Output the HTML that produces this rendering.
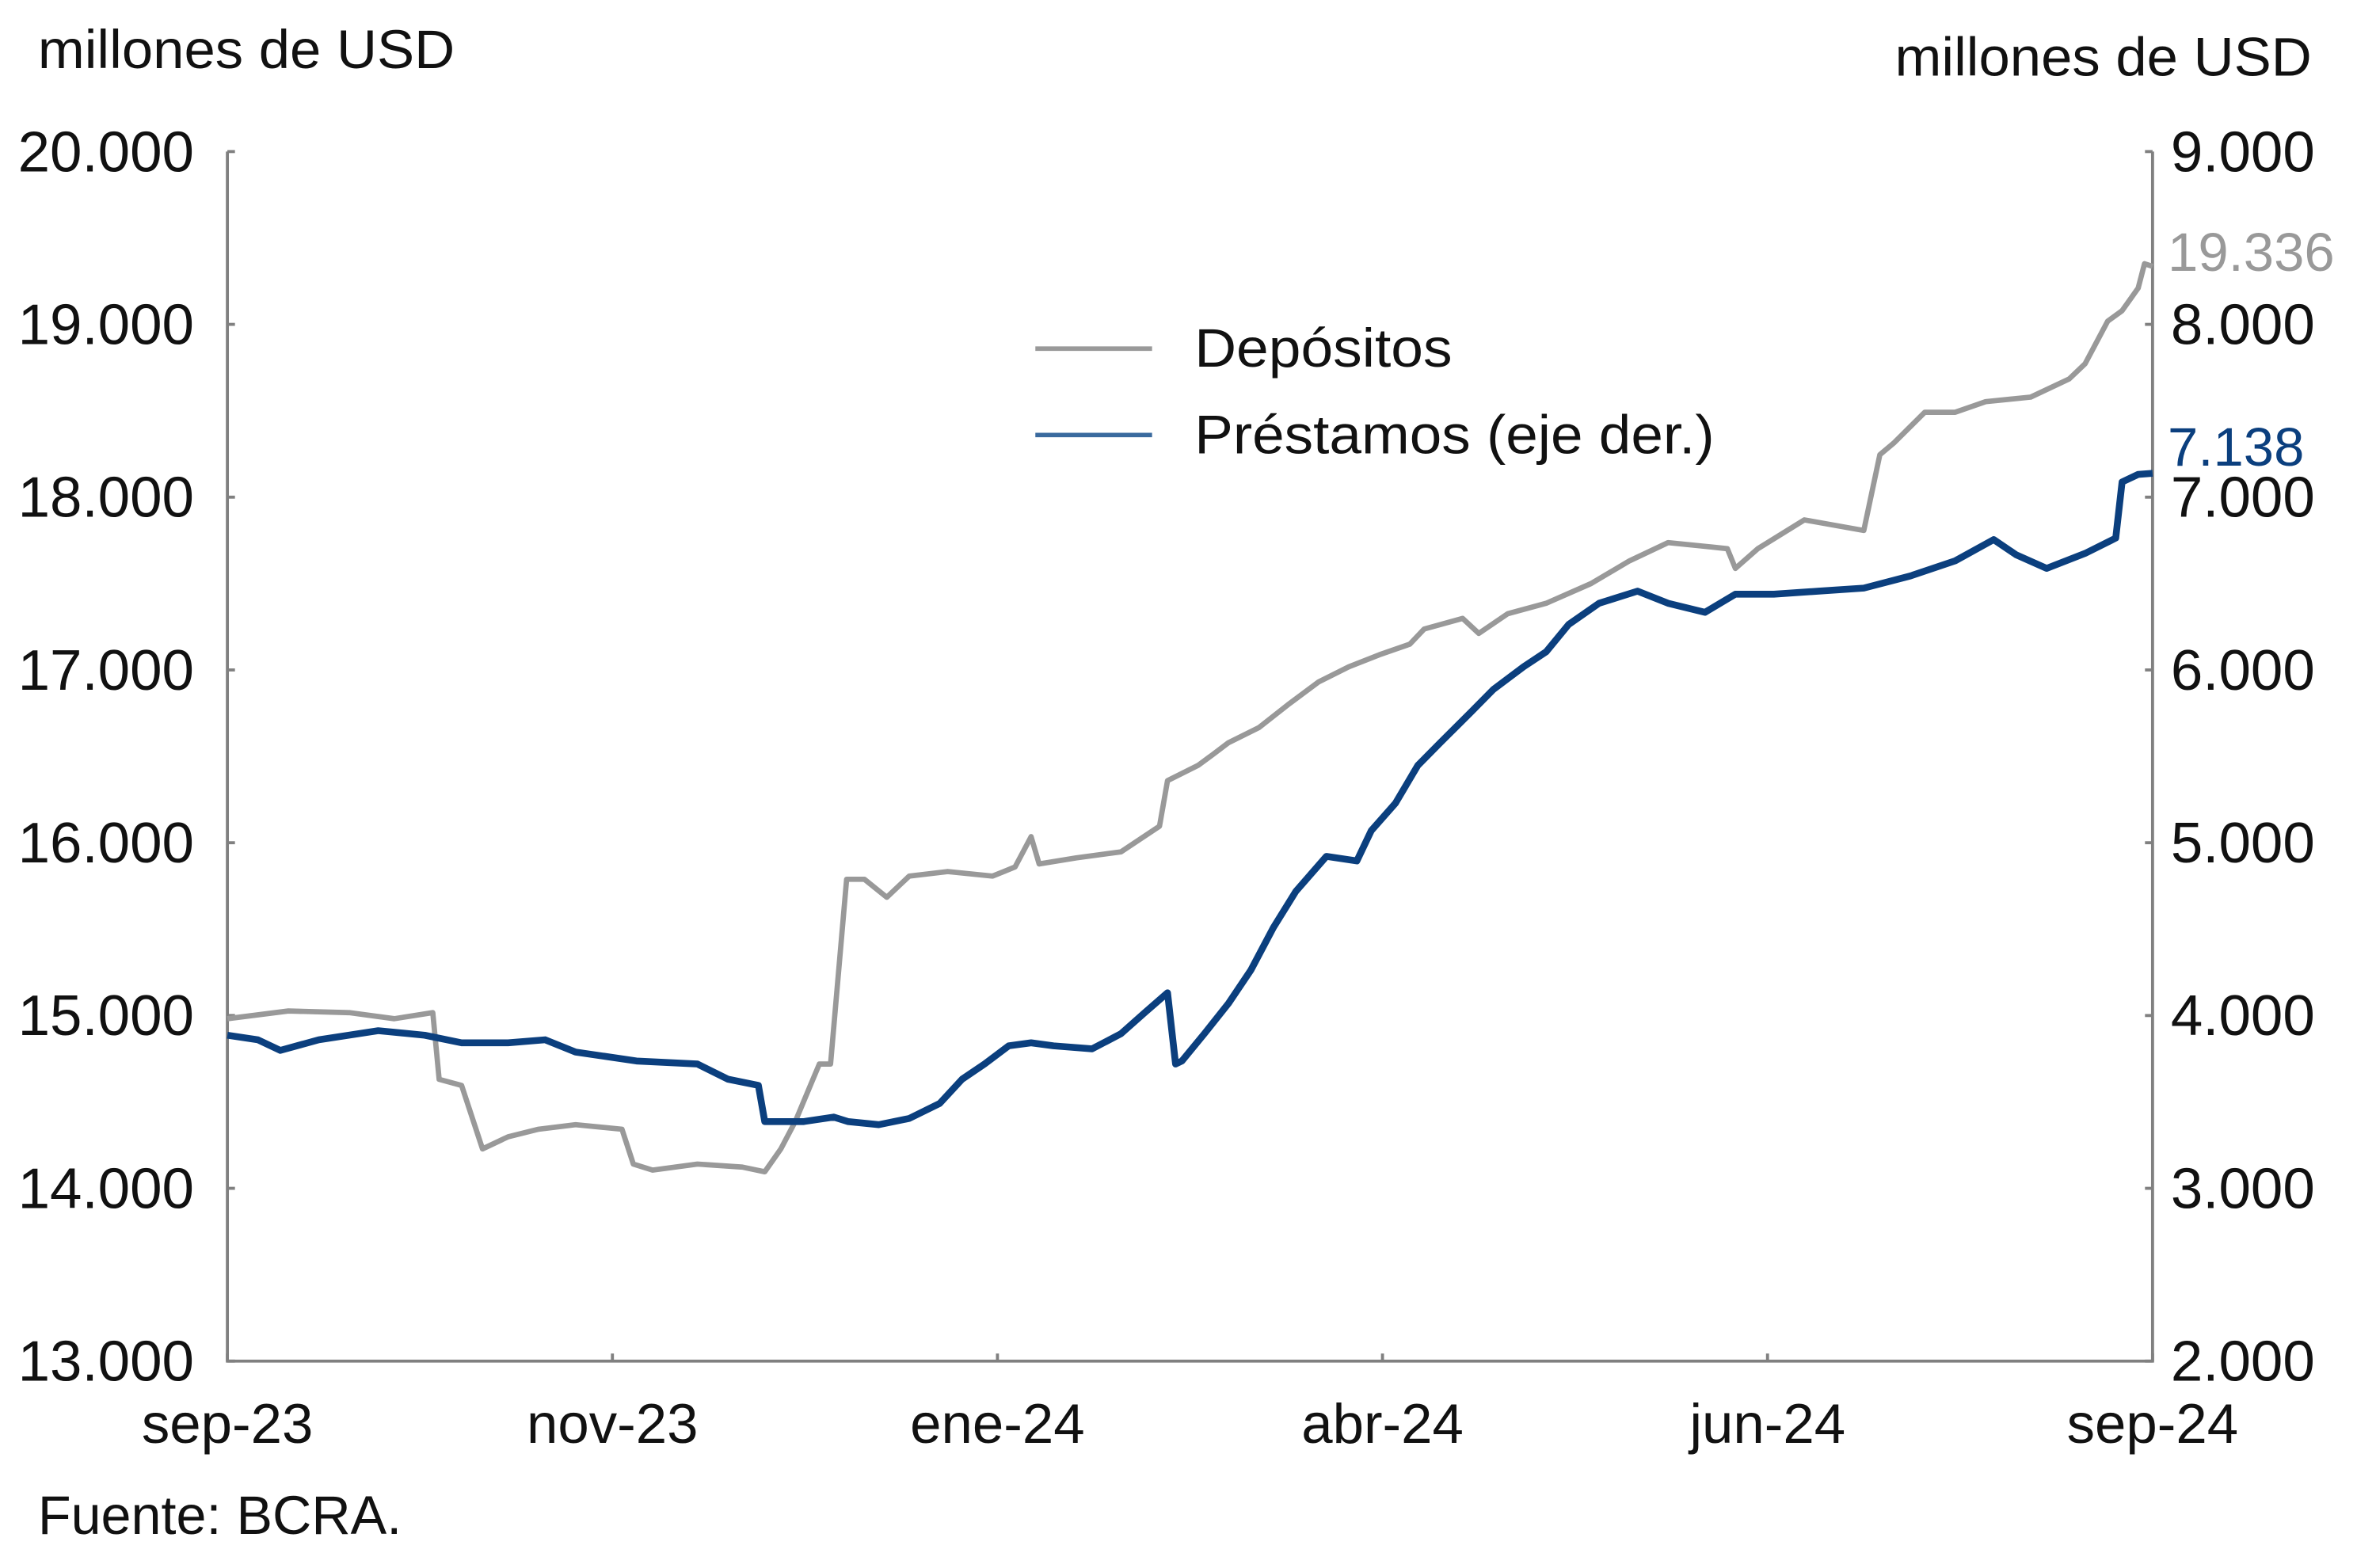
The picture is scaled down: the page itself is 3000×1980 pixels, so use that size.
<!DOCTYPE html>
<html><head><meta charset="utf-8">
<style>
html,body{margin:0;padding:0;background:#fff;}
svg{display:block;}
text{font-family:"Liberation Sans",sans-serif;fill:#111;}
</style></head>
<body>
<svg id="chart" width="3000" height="1980" viewBox="0 0 1567.4 1034.5" preserveAspectRatio="none" xmlns="http://www.w3.org/2000/svg">
<text x="25" y="45" font-size="36" textLength="275" lengthAdjust="spacingAndGlyphs">millones de USD</text>
<text x="1250" y="50" font-size="36" textLength="275" lengthAdjust="spacingAndGlyphs">millones de USD</text>
<text x="25" y="1012" font-size="36" textLength="240" lengthAdjust="spacingAndGlyphs">Fuente: BCRA.</text>
<g id="axes"></g>
<g id="series"></g>
<g>
  <line x1="683" y1="230" x2="760" y2="230" stroke="#999" stroke-width="3"/>
  <text x="788" y="242" font-size="36" textLength="170" lengthAdjust="spacingAndGlyphs">Depósitos</text>
  <line x1="683" y1="287" x2="760" y2="287" stroke="#3a6a9e" stroke-width="3"/>
  <text x="788" y="299" font-size="36" textLength="343" lengthAdjust="spacingAndGlyphs">Préstamos (eje der.)</text>
</g>
</svg>
<script>
const xTickLabels = ["sep-23","nov-23","ene-24","abr-24","jun-24","sep-24"];
const leftTicks = [13000,14000,15000,16000,17000,18000,19000,20000];
const rightTicks = [2000,3000,4000,5000,6000,7000,8000,9000];
const depT = [0,0.38,0.76,1.04,1.28,1.32,1.46,1.59,1.75,1.94,2.17,2.46,2.53,2.65,2.93,3.21,3.35,3.45,3.54,3.69,3.76,3.86,3.97,4.11,4.25,4.49,4.77,4.91,5.01,5.06,5.29,5.57,5.81,5.86,6.05,6.14,6.24,6.43,6.61,6.80,6.99,7.18,7.37,7.46,7.70,7.80,7.98,8.22,8.50,8.74,8.98,9.17,9.35,9.40,9.54,9.83,10.20,10.30,10.39,10.58,10.77,10.96,11.24,11.48,11.58,11.72,11.81,11.91,11.95,12];
const depV = [14982,15026,15017,14982,15017,14631,14596,14228,14298,14342,14368,14342,14140,14105,14140,14123,14096,14228,14386,14719,14719,15789,15789,15684,15807,15833,15807,15860,16035,15877,15912,15947,16096,16360,16447,16509,16579,16667,16798,16930,17018,17088,17149,17237,17298,17211,17325,17386,17500,17632,17737,17719,17702,17588,17702,17868,17807,18246,18316,18491,18491,18553,18579,18684,18772,19018,19079,19210,19351,19336];
const preT = [0,0.19,0.33,0.57,0.94,1.23,1.46,1.75,1.98,2.17,2.55,2.93,3.12,3.31,3.35,3.59,3.78,3.87,4.06,4.25,4.44,4.58,4.72,4.87,5.01,5.15,5.39,5.57,5.72,5.86,5.91,5.95,6.09,6.24,6.38,6.52,6.66,6.85,7.04,7.13,7.28,7.42,7.56,7.75,7.89,8.08,8.22,8.36,8.55,8.79,8.98,9.21,9.40,9.64,9.92,10.20,10.49,10.77,11.01,11.15,11.34,11.58,11.77,11.81,11.91,12];
const preV = [3886,3860,3798,3860,3912,3886,3842,3842,3860,3789,3737,3719,3632,3596,3386,3386,3412,3386,3368,3404,3491,3632,3719,3825,3842,3825,3807,3895,4018,4132,3719,3737,3895,4070,4263,4509,4719,4921,4895,5070,5228,5447,5579,5754,5886,6018,6105,6263,6386,6456,6386,6333,6439,6439,6456,6474,6544,6632,6754,6667,6588,6675,6763,7088,7132,7138];
const depLast = "19.336", preLast = "7.138";

const NS="http://www.w3.org/2000/svg";
const X0=150,X1=1420,Y0=100,Y1=898;
const xs=t=>X0+(t/12)*(X1-X0);
const yL=v=>Y1-(v-13000)/7000*(Y1-Y0);
const yR=v=>Y1-(v-2000)/7000*(Y1-Y0);
function mk(tag,attrs,parent){const e=document.createElementNS(NS,tag);for(const k in attrs)e.setAttribute(k,attrs[k]);parent.appendChild(e);return e;}
const axes=document.getElementById('axes'), series=document.getElementById('series');
const fmt=v=>v.toLocaleString('de-DE');

let e=mk('path',{d:`M${X0},${Y0}V${Y1}H${X1}V${Y0}`,fill:'none',stroke:'#808080','stroke-width':2},axes);


leftTicks.forEach(v=>{
  const y=yL(v);
  let t=mk('line',{x1:X0,x2:X0+5,y1:y,y2:y,stroke:'#808080','stroke-width':2},axes);
  
  
  let l=mk('text',{x:128,y:y+13,'font-size':38,'text-anchor':'end'},axes);l.textContent=fmt(v);
  
  
});
rightTicks.forEach(v=>{
  const y=yR(v);
  let t=mk('line',{x1:X1-5,x2:X1,y1:y,y2:y,stroke:'#808080','stroke-width':2},axes);
  
  
  let l=mk('text',{x:1432,y:y+13,'font-size':38},axes);l.textContent=fmt(v);
  
  
});
xTickLabels.forEach((s,i)=>{
  const x=X0+i*(X1-X0)/(xTickLabels.length-1);
  let t=mk('line',{x1:x,x2:x,y1:Y1,y2:Y1-5,stroke:'#808080','stroke-width':2},axes);
  
  
  let l=mk('text',{x:x,y:952,'font-size':37,'text-anchor':'middle'},axes);l.textContent=s;
  
  
});
let dp=mk('path',{d:depT.map((t,i)=>(i?'L':'M')+xs(t).toFixed(1)+','+yL(depV[i]).toFixed(1)).join(''),fill:'none',stroke:'#999','stroke-width':3.5,'stroke-linejoin':'round'},series);


let pp=mk('path',{d:preT.map((t,i)=>(i?'L':'M')+xs(t).toFixed(1)+','+yR(preV[i]).toFixed(1)).join(''),fill:'none',stroke:'#0b3f7e','stroke-width':4.5,'stroke-linejoin':'round'},series);


let dl=mk('text',{x:1430,y:yL(depV[depV.length-1])+3,'font-size':36,style:'fill:#999'},series);dl.textContent=depLast;


let pl=mk('text',{x:1430,y:yR(preV[preV.length-1])-5,'font-size':36,style:'fill:#0b3f7e'},series);pl.textContent=preLast;


</script>
</body></html>
